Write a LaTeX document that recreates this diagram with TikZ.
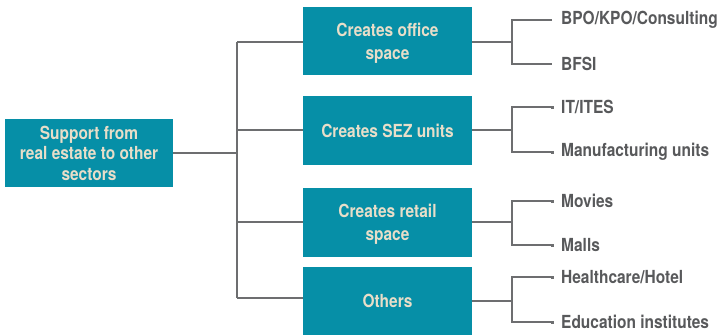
\documentclass[tikz,border=0pt]{standalone}
\usepackage{fontspec}
\setmainfont{TeX Gyre Heros}[FakeStretch=0.86]
\definecolor{teal1}{HTML}{068FA7}
\definecolor{beige}{HTML}{E8DEC9}
\definecolor{leaftxt}{HTML}{58595B}
\definecolor{linec}{HTML}{6D6E70}
\tikzset{
  box/.style={fill=teal1, text=beige, font=\fontsize{18}{23}\selectfont\bfseries, align=center, inner sep=0pt},
  boxlabel/.style={text=beige, font=\fontsize{18}{23}\selectfont\bfseries, align=center, inner sep=0pt, yshift=-2pt},
  leaf/.style={anchor=west, text=leaftxt, font=\fontsize{18}{20}\selectfont\bfseries, inner sep=0pt},
  conn/.style={draw=linec, line width=1.2pt},
  tip/.style={fill=linec, inner sep=0pt, minimum size=3pt}
}
\begin{document}
\begin{tikzpicture}[x=1pt,y=-1pt]
\useasboundingbox (0,0) rectangle (717,335);
\node[box, font=\fontsize{18}{20.5}\selectfont\bfseries, minimum width=168pt, minimum height=68pt] (root) at (89,153) {Support from\\real estate to other\\sectors};
\node[box, minimum width=169pt, minimum height=68pt, label={[boxlabel]center:{Creates office\\space}}] (b1) at (387.5,41) {};
\node[box, minimum width=169pt, minimum height=69pt] (b2) at (387.5,130.5) {Creates SEZ units};
\node[box, minimum width=169pt, minimum height=69pt, label={[boxlabel]center:{Creates retail\\space}}] (b3) at (387.5,222.5) {};
\node[box, minimum width=169pt, minimum height=68pt] (b4) at (387.5,301) {Others};
% leaves
\node[leaf] (l1) at (561,20) {BPO/KPO/Consulting};
\node[leaf] (l2) at (561,64) {BFSI};
\node[leaf] (l3) at (561,107) {IT/ITES};
\node[leaf] (l4) at (561,152) {Manufacturing units};
\node[leaf] (l5) at (561,201) {Movies};
\node[leaf] (l6) at (561,245) {Malls};
\node[leaf] (l7) at (561,277) {Healthcare/Hotel};
\node[leaf] (l8) at (561,322) {Education institutes};
% left trunk
\coordinate (t0) at (237,153);
\coordinate (t1) at (237,42);
\coordinate (t4) at (237,298);
\draw[conn] (root.east) -- (t0);
\draw[conn] (t1) -- (t4);
\draw[conn] (t1) -- (t1 -| b1.west);
\draw[conn] (237,130) -- (b2.west |- 0,130);
\draw[conn] (237,222) -- (b3.west |- 0,222);
\draw[conn] (t4) -- (t4 -| b4.west);
% right branches
\foreach \b/\y/\la/\lb in {b1/42/l1/l2, b2/130/l3/l4, b3/222/l5/l6, b4/301/l7/l8}{
  \draw[conn] (\b.east |- 0,\y) -- (512,\y);
  \draw[conn] (552,0 |- \la.west) -| (512,0 |- \lb.west) -- (552,0 |- \lb.west);
}
\foreach \l in {l3,l4,l5,l6,l7,l8}{
  \node[tip] at (552,0 |- \l.west) {};
}
\end{tikzpicture}
\end{document}
